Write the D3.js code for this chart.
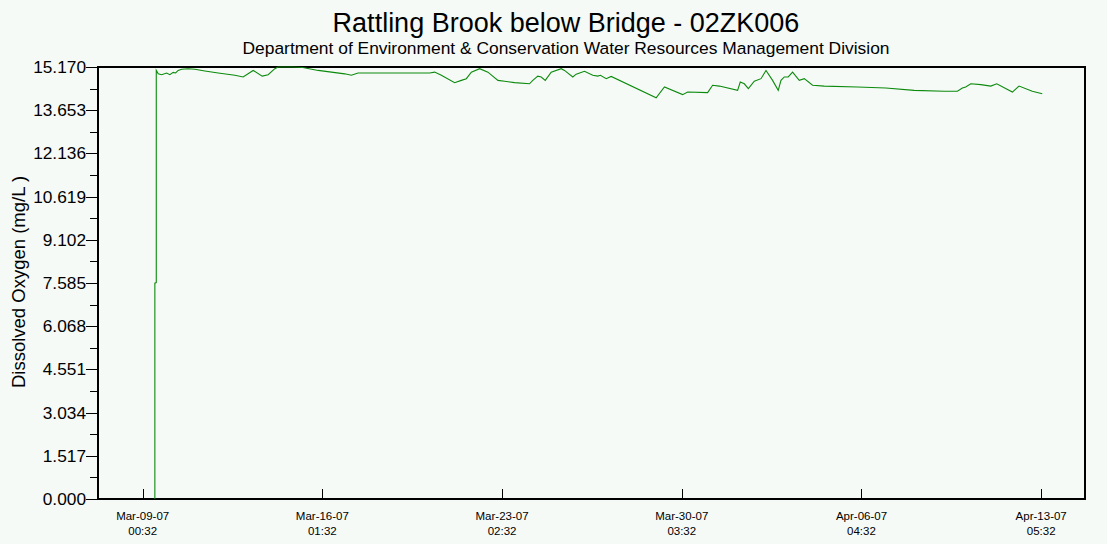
<!DOCTYPE html>
<html>
<head>
<meta charset="utf-8">
<script src="https://cdn.jsdelivr.net/npm/d3@7"></script>
<style>
  body { margin: 0; background: #f5faf7; }
  svg { display: block; font-family: "Liberation Sans", Arial, sans-serif; }
</style>
</head>
<body>
<div id="chart"></div>
<script>
// Titulos
var chartTitle = "Rattling Brook below Bridge - 02ZK006";
var chartSubtitle = "Department of Environment & Conservation Water Resources Management Division";
var yLabel = "Dissolved Oxygen (mg/L )";

// Marcas de los ejes
var yTickValues = [0, 1.517, 3.034, 4.551, 6.068, 7.585, 9.102, 10.619, 12.136, 13.653, 15.170];
var yTickLabels = ["0.000", "1.517", "3.034", "4.551", "6.068", "7.585", "9.102", "10.619", "12.136", "13.653", "15.170"];
var xTickDates = ["2007-03-09 00:32", "2007-03-16 01:32", "2007-03-23 02:32", "2007-03-30 03:32", "2007-04-06 04:32", "2007-04-13 05:32"];
var xTickLine1 = ["Mar-09-07", "Mar-16-07", "Mar-23-07", "Mar-30-07", "Apr-06-07", "Apr-13-07"];
var xTickLine2 = ["00:32", "01:32", "02:32", "03:32", "04:32", "05:32"];
var xDomain = ["2007-03-07 06:32", "2007-04-14 22:44"];

// Serie: oxigeno disuelto (fecha, mg/L)
var oxygenDates = [
    "2007-03-09 12:00", "2007-03-09 12:00", "2007-03-09 13:20", "2007-03-09 13:20", "2007-03-09 15:12",
    "2007-03-09 18:23", "2007-03-09 23:02", "2007-03-10 02:08", "2007-03-10 05:14", "2007-03-10 07:32",
    "2007-03-10 09:56", "2007-03-10 13:08", "2007-03-10 19:20", "2007-03-11 01:38", "2007-03-11 11:02",
    "2007-03-11 23:32", "2007-03-12 15:14", "2007-03-12 23:02", "2007-03-13 08:26", "2007-03-13 16:56",
    "2007-03-13 22:32", "2007-03-14 04:50", "2007-03-14 07:56", "2007-03-14 21:44", "2007-03-15 07:08",
    "2007-03-15 21:32", "2007-03-16 10:02", "2007-03-16 22:32", "2007-03-17 04:50", "2007-03-17 11:02",
    "2007-03-20 06:26", "2007-03-20 11:08", "2007-03-20 17:26", "2007-03-21 05:56", "2007-03-21 12:14",
    "2007-03-21 16:56", "2007-03-21 21:38", "2007-03-22 05:26", "2007-03-22 13:14", "2007-03-22 22:38",
    "2007-03-23 04:56", "2007-03-23 14:20", "2007-03-24 04:20", "2007-03-24 07:26", "2007-03-24 12:08",
    "2007-03-24 15:20", "2007-03-24 19:08", "2007-03-25 00:44", "2007-03-25 10:08", "2007-03-25 13:14",
    "2007-03-25 21:02", "2007-03-26 00:14", "2007-03-26 08:02", "2007-03-26 15:50", "2007-03-26 20:32",
    "2007-03-26 23:02", "2007-03-27 04:26", "2007-03-27 09:08", "2007-03-29 03:26", "2007-03-29 11:14",
    "2007-03-30 04:20", "2007-03-30 09:02", "2007-03-31 03:50", "2007-03-31 08:32", "2007-03-31 14:50",
    "2007-04-01 08:02", "2007-04-01 10:32", "2007-04-01 14:20", "2007-04-01 18:08", "2007-04-01 23:44",
    "2007-04-02 06:02", "2007-04-02 10:44", "2007-04-02 16:56", "2007-04-02 22:14", "2007-04-03 00:50",
    "2007-04-03 03:56", "2007-04-03 07:38", "2007-04-03 11:44", "2007-04-03 18:02", "2007-04-03 22:44",
    "2007-04-04 06:32", "2007-04-04 17:32", "2007-04-06 00:44", "2007-04-07 03:26", "2007-04-08 06:02",
    "2007-04-09 10:14", "2007-04-09 22:44", "2007-04-10 03:26", "2007-04-10 06:32", "2007-04-10 11:20",
    "2007-04-10 20:44", "2007-04-11 06:08", "2007-04-11 11:44", "2007-04-12 02:26", "2007-04-12 08:44",
    "2007-04-12 21:08", "2007-04-13 06:32"
];
var oxygenValues = [
    0.00, 7.58, 7.60, 15.05, 14.93,
    14.90, 14.96, 14.90, 14.98, 14.96,
    15.05, 15.09, 15.11, 15.09, 15.03,
    14.96, 14.88, 14.82, 15.05, 14.85,
    14.90, 15.11, 15.17, 15.17, 15.15,
    15.05, 14.99, 14.93, 14.88, 14.96,
    14.96, 14.99, 14.88, 14.62, 14.70,
    14.76, 14.99, 15.11, 14.99, 14.70,
    14.67, 14.62, 14.58, 14.70, 14.85,
    14.82, 14.70, 14.99, 15.11, 15.05,
    14.82, 14.92, 15.02, 14.88, 14.85,
    14.88, 14.76, 14.84, 14.09, 14.47,
    14.20, 14.29, 14.27, 14.53, 14.50,
    14.35, 14.64, 14.58, 14.41, 14.67,
    14.76, 15.05, 14.70, 14.35, 14.70,
    14.82, 14.82, 14.99, 14.70, 14.76,
    14.53, 14.50, 14.47, 14.43, 14.35,
    14.32, 14.32, 14.43, 14.47, 14.58,
    14.55, 14.50, 14.58, 14.29, 14.50,
    14.32, 14.23
];

var width = 1107, height = 544;
var plotLeft = 98, plotRight = 1085, plotTop = 67, plotBottom = 499;
var parseTime = d3.utcParse("%Y-%m-%d %H:%M");

var svg = d3.select("#chart").append("svg")
    .attr("width", width)
    .attr("height", height);

svg.append("rect")
    .attr("width", width)
    .attr("height", height)
    .attr("fill", "#f5faf7");

var x = d3.scaleUtc()
    .domain(xDomain.map(parseTime))
    .range([plotLeft, plotRight]);

var y = d3.scaleLinear()
    .domain([0, 15.17])
    .range([plotBottom, plotTop]);

// Titulos
svg.append("text")
    .attr("x", 566)
    .attr("y", 32)
    .attr("text-anchor", "middle")
    .attr("font-size", "27px")
    .attr("fill", "#000")
    .text(chartTitle);

svg.append("text")
    .attr("x", 566)
    .attr("y", 54)
    .attr("text-anchor", "middle")
    .attr("font-size", "17.4px")
    .attr("fill", "#000")
    .text(chartSubtitle);

// Marco del area de grafico
svg.append("rect")
    .attr("x", plotLeft)
    .attr("y", plotTop)
    .attr("width", plotRight - plotLeft)
    .attr("height", plotBottom - plotTop)
    .attr("fill", "none")
    .attr("stroke", "#000")
    .attr("stroke-width", 1.2)
    .attr("shape-rendering", "crispEdges");

// Eje Y con marcas menores
var yMinor = [];
for (var i = 0; i < yTickValues.length - 1; i++) {
    yMinor.push((yTickValues[i] + yTickValues[i + 1]) / 2);
}

var yAxis = svg.append("g")
    .attr("transform", "translate(" + plotLeft + ",0)")
    .call(d3.axisLeft(y)
        .tickValues(yTickValues)
        .tickSize(12)
        .tickPadding(0)
        .tickFormat(function (d, i) { return yTickLabels[i]; }));

yAxis.select(".domain").remove();
yAxis.selectAll("line").attr("stroke", "#000").attr("shape-rendering", "crispEdges");
yAxis.selectAll("text")
    .attr("font-size", "17.3px")
    .attr("fill", "#000")
    .attr("font-family", "\"Liberation Sans\", Arial, sans-serif");

svg.append("g")
    .selectAll("line")
    .data(yMinor)
    .enter().append("line")
    .attr("x1", plotLeft - 8)
    .attr("x2", plotLeft)
    .attr("y1", function (d) { return Math.round(y(d)) + 0.5; })
    .attr("y2", function (d) { return Math.round(y(d)) + 0.5; })
    .attr("stroke", "#000");

// Eje X: marcas hacia dentro
var xTicks = xTickDates.map(parseTime);

var xAxis = svg.append("g")
    .attr("transform", "translate(0," + plotBottom + ")")
    .call(d3.axisBottom(x)
        .tickValues(xTicks)
        .tickSize(-10)
        .tickFormat(""));

xAxis.select(".domain").remove();
xAxis.selectAll("line").attr("stroke", "#000").attr("shape-rendering", "crispEdges");

var xLabels = svg.append("g");
xLabels.selectAll("text.l1")
    .data(xTicks)
    .enter().append("text")
    .attr("class", "l1")
    .attr("x", function (d) { return x(d); })
    .attr("y", 520)
    .attr("text-anchor", "middle")
    .attr("font-size", "11.5px")
    .attr("fill", "#000")
    .text(function (d, i) { return xTickLine1[i]; });

xLabels.selectAll("text.l2")
    .data(xTicks)
    .enter().append("text")
    .attr("class", "l2")
    .attr("x", function (d) { return x(d); })
    .attr("y", 535)
    .attr("text-anchor", "middle")
    .attr("font-size", "11.5px")
    .attr("fill", "#000")
    .text(function (d, i) { return xTickLine2[i]; });

// Titulo del eje Y
svg.append("text")
    .attr("transform", "translate(25," + 282 + ") rotate(-90)")
    .attr("text-anchor", "middle")
    .attr("font-size", "18.5px")
    .attr("fill", "#000")
    .text(yLabel);

// Linea de datos
var series = oxygenDates.map(function (d, i) {
    return { date: parseTime(d), value: oxygenValues[i] };
});

var line = d3.line()
    .x(function (d) { return x(d.date); })
    .y(function (d) { return y(d.value); });

svg.append("path")
    .datum(series)
    .attr("d", line)
    .attr("fill", "none")
    .attr("stroke", "#0c8a0c")
    .attr("stroke-width", 1.1);
</script>
</body>
</html>
